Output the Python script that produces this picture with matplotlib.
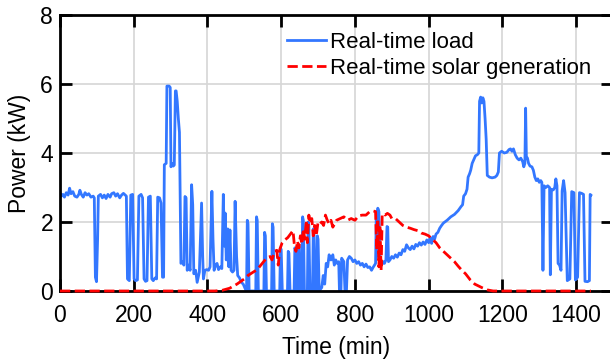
import numpy as np
import matplotlib
matplotlib.use("Agg")
import matplotlib.pyplot as plt

plt.rcParams['font.family'] = ['Liberation Sans', 'DejaVu Sans']

# Real-time household load (min, kW)
load_t = [0, 4, 8, 12, 17, 22, 26, 30, 35, 40, 46, 51, 54, 58, 63, 68, 73, 78, 84, 90,
          93, 96, 99, 102, 104, 110, 115, 120, 125, 130, 136, 140, 146, 151, 156, 162, 167, 172, 177, 180,
          183, 188, 192, 197, 201, 205, 210, 214, 220, 224, 228, 232, 236, 240, 245, 249, 253, 258, 262, 265,
          270, 274, 278, 281, 283, 288, 290, 296, 299, 301, 304, 307, 310, 313, 315, 318, 321, 324, 328, 332,
          336, 339, 342, 345, 349, 353, 357, 360, 363, 368, 372, 378, 384, 387, 389, 393, 398, 403, 407, 412,
          415, 418, 422, 426, 430, 435, 439, 443, 446, 448, 451, 455, 458, 461, 464, 468, 472, 475, 479, 482,
          487, 492, 497, 501, 505,
          506, 508, 510, 513, 531, 533, 535, 538, 553, 555, 557, 560, 574, 576, 578, 581,
          596, 598, 600, 603, 617, 619, 621, 624, 635, 637, 639, 642, 645, 647, 649, 652,
          656, 658, 660, 663, 671, 673, 675, 678, 685, 687, 689, 692, 696, 698, 700, 703,
          710, 714, 718, 722, 726, 730, 735, 740, 744, 748, 752, 756, 758, 762, 764, 770, 773, 777, 780,
          785, 790, 795, 800, 805, 810, 815, 820, 825, 830, 835, 840, 845, 849, 853, 856, 858, 860, 862, 865,
          868, 872, 877, 880, 884, 887, 889, 891, 895, 900, 905, 910, 915, 920, 925, 930, 935, 940, 945, 950,
          955, 960, 965, 970, 975, 980, 985, 990, 995, 1000, 1004, 1008, 1012, 1016, 1020, 1025, 1030, 1035, 1040,
          1050, 1060, 1070, 1080, 1088, 1092, 1095, 1100, 1104, 1107, 1111, 1114, 1118, 1122, 1127, 1132, 1136,
          1138, 1141, 1144, 1147, 1150, 1153, 1156, 1159, 1165, 1172, 1180, 1185, 1189, 1192, 1198, 1205, 1212,
          1218, 1222, 1226, 1230, 1235, 1240, 1245, 1250, 1255, 1258, 1261, 1263, 1265, 1268, 1271, 1275, 1280,
          1284, 1288, 1292, 1296, 1300, 1304, 1307, 1310, 1313, 1318, 1323, 1328, 1330, 1333, 1338, 1342, 1345,
          1348, 1351, 1355, 1359, 1362, 1366, 1370, 1376, 1383, 1388, 1394, 1398, 1404, 1409, 1415, 1420, 1424,
          1431, 1436, 1438, 1440]
load_kw = [2.85, 2.75, 2.8, 2.72, 2.85, 2.78, 2.98, 2.82, 2.88, 2.75, 2.72, 2.8, 2.92, 2.8, 2.72, 2.85, 2.78, 2.82, 2.72, 2.75,
           2.7, 0.4, 0.27, 1.5, 2.75, 2.8, 2.7, 2.78, 2.68, 2.8, 2.72, 2.82, 2.85, 2.75, 2.82, 2.7, 2.78, 2.83, 2.78, 2.75,
           0.35, 0.3, 2.78, 2.8, 0.35, 0.3, 0.32, 2.75, 2.8, 2.7, 0.35, 0.28, 0.3, 2.72, 2.75, 0.35, 0.3, 0.38, 0.35, 2.72,
           2.7, 2.55, 0.4, 0.4, 3.66, 3.7, 5.94, 5.94, 5.9, 3.6, 3.7, 3.62, 3.65, 5.8, 5.8, 5.5, 5.0, 4.6, 0.8, 0.85,
           0.75, 2.74, 2.7, 0.6, 0.75, 0.6, 3.08, 2.5, 0.5, 0.6, 0.25, 0.55, 2.55, 1.0, 0.35, 0.6, 0.62, 0.6, 0.7, 2.89,
           1.5, 0.6, 0.75, 0.8, 0.62, 0.7, 0.65, 2.8, 1.3, 2.26, 0.9, 1.8, 0.7, 1.77, 0.6, 0.55, 0.6, 2.6, 1.0, 0.45,
           0.38, 0.25, 0.2, 0.1, 0.0,
           0.0, 2.05, 1.95, 0.0, 0.0, 2.15, 2.05, 0.0, 0.0, 1.7, 1.6, 0.0, 0.0, 1.95, 1.85, 0.0,
           0.0, 1.25, 1.2, 0.0, 0.0, 1.15, 1.1, 0.0, 0.0, 1.25, 1.2, 0.0, 0.0, 1.35, 1.3, 0.0,
           0.0, 2.15, 2.05, 0.0, 0.0, 2.0, 1.9, 0.0, 0.0, 1.8, 1.7, 0.0, 0.0, 1.6, 1.5, 0.0,
           0.1, 0.45, 0.2, 0.8, 0.7, 1.05, 0.9, 1.05, 0.75, 0.9, 0.8, 0.85, 0.0, 0.0, 0.95, 0.85, 0.0, 0.0, 0.9,
           1.0, 0.95, 0.85, 0.9, 0.8, 0.85, 0.75, 0.8, 0.7, 0.78, 0.68, 0.7, 0.6, 0.68, 0.75, 0.8, 2.3, 1.0, 2.4, 2.3,
           0.8, 0.75, 0.85, 0.8, 0.9, 1.87, 1.85, 0.85, 0.9, 1.0, 0.95, 1.05, 0.98, 1.1, 1.05, 1.2, 1.15, 1.34, 1.25, 1.2,
           1.3, 1.22, 1.35, 1.3, 1.4, 1.33, 1.42, 1.35, 1.48, 1.4, 1.55, 1.38, 1.58, 1.5, 1.65, 1.7, 1.82, 1.9, 1.97,
           2.05, 2.15, 2.22, 2.33, 2.45, 2.5, 2.75, 2.82, 2.95, 3.3, 3.4, 3.5, 3.7, 3.8, 3.92, 3.95, 4.0,
           5.5, 5.62, 5.45, 5.6, 5.5, 5.0, 4.4, 3.35, 3.3, 3.28, 3.3, 3.35, 3.45, 4.0, 4.05, 4.0, 4.02,
           4.1, 4.12, 4.05, 4.12, 3.95, 3.85, 3.8, 3.85, 3.75, 3.6, 3.7, 5.3, 3.9, 3.85, 3.7, 3.62, 3.6,
           3.5, 3.3, 3.2, 3.25, 3.15, 3.2, 3.15, 0.6, 3.05, 3.0, 3.05, 3.0, 0.47, 2.95, 2.93, 3.0, 3.25,
           3.05, 0.8, 0.75, 0.6, 2.9, 3.2, 2.85, 0.3, 0.35, 2.88, 2.85, 0.32, 0.4, 2.85, 2.83, 2.8, 0.28,
           0.27, 0.3, 2.8, 2.78]

# Real-time PV output (min, kW)
solar_t = [0, 420, 440, 460, 480, 500, 510, 520, 535, 550, 560, 570, 575, 582, 588, 592, 596, 602, 610, 618,
           625, 632, 636, 640, 644, 648, 652, 656, 660, 664, 668, 671, 675, 679, 683, 687, 691, 695, 700, 705,
           710, 715, 720, 725, 730, 735, 740, 745, 750, 760, 770, 780, 790, 800, 810, 820, 830, 840, 850, 856,
           859, 862, 865, 868, 871, 874, 878, 882, 888, 895, 900, 910, 920, 930, 940, 950, 960, 970, 980, 990,
           1000, 1010, 1020, 1030, 1040, 1050, 1060, 1070, 1080, 1090, 1100, 1113, 1125, 1144, 1160, 1175, 1440]
solar_kw = [0, 0, 0.02, 0.08, 0.2, 0.35, 0.45, 0.52, 0.62, 0.82, 0.95, 1.0, 0.9, 1.15, 1.18, 0.75, 1.2, 1.38, 1.48, 1.55,
            1.65, 1.75, 1.3, 1.15, 1.45, 1.25, 1.6, 1.35, 1.8, 1.5, 2.05, 1.4, 2.2, 1.95, 2.1, 1.6, 1.9, 1.6, 2.0, 1.95,
            2.0, 1.9, 2.2, 2.05, 1.95, 2.05, 1.85, 1.95, 2.05, 2.1, 2.15, 2.05, 2.1, 2.05, 2.18, 2.2, 2.2, 2.3, 2.32, 2.3,
            1.2, 2.1, 0.7, 1.9, 0.6, 2.2, 2.25, 2.2, 2.25, 2.2, 2.1, 2.1, 2.0, 1.9, 1.85, 1.82, 1.78, 1.75, 1.68, 1.65,
            1.6, 1.5, 1.4, 1.25, 1.15, 1.05, 0.95, 0.85, 0.72, 0.6, 0.5, 0.32, 0.2, 0.1, 0.03, 0.0, 0.0]

fig = plt.figure(figsize=(6.1, 3.61), dpi=100)
ax = fig.add_axes([60 / 610, 70 / 361, 553 / 610, 276 / 361])

ax.plot(load_t, load_kw, color='#3377ff', lw=2.0, label='Real-time load', zorder=2)
ax.plot(solar_t, solar_kw, color='#ff0000', lw=2.0, ls='--', label='Real-time solar generation',
        zorder=3, clip_on=False)

ax.set_xlim(0, 1500)
ax.set_ylim(0, 8)
ax.set_xticks(np.arange(0, 1401, 200))
ax.set_yticks([0, 2, 4, 6, 8])
ax.grid(True, color='#d6d6d6', lw=1.2)
ax.set_axisbelow(True)

for s in ax.spines.values():
    s.set_linewidth(2)
ax.tick_params(direction='in', length=8.5, width=2, top=True, right=True, labelsize=16.5)
ax.tick_params(axis='x', pad=9)
ax.tick_params(axis='y', pad=5)

ax.set_xlabel('Time (min)', fontsize=16.5, labelpad=7)
ax.set_ylabel('Power (kW)', fontsize=16.5, labelpad=7)

ax.legend(loc='upper left', bbox_to_anchor=(0.4105, 0.939), frameon=False, fontsize=16,
          handlelength=1.75, handletextpad=0.2, labelspacing=0.23, borderpad=0, borderaxespad=0)

fig.savefig('out.png', dpi=100)
